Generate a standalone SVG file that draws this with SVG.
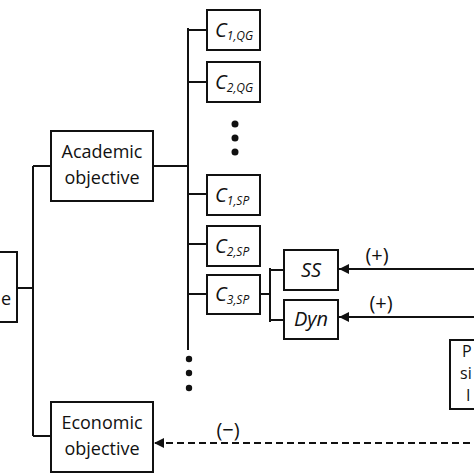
<svg xmlns="http://www.w3.org/2000/svg" width="474" height="474" viewBox="0 0 474 474">
<style>
.box{fill:#fff;stroke:#111;stroke-width:2}
.ln{fill:none;stroke:#111;stroke-width:2}
.t{font-family:"Open Sans","Liberation Sans",sans-serif;font-size:18px;fill:#111;text-anchor:middle}
.c{font-family:"Open Sans","Liberation Sans",sans-serif;font-size:20px;font-style:italic;fill:#111}
.s{font-size:12px}
.p{font-family:"Open Sans","Liberation Sans",sans-serif;font-size:20px;fill:#111;text-anchor:middle}
.r{font-family:"Open Sans","Liberation Sans",sans-serif;font-size:16px;fill:#111}
</style>
<defs>
<marker id="ah" viewBox="0 0 10 10" refX="10" refY="5" markerWidth="10" markerHeight="10" markerUnits="userSpaceOnUse" orient="auto">
<path d="M0,0 L10,5 L0,10 Z" fill="#111"/>
</marker>
</defs>
<rect width="474" height="474" fill="#fff"/>
<g id="connectors">
<path class="ln" d="M17,288 H33 M33,166 V436 M33,166 H51 M33,436 H51"/>
<path class="ln" d="M153,166 H188 M188,28 V350 M188,30 H207 M188,82 H207 M188,194 H207 M188,244 H207 M188,294 H207"/>
<path class="ln" d="M260,294 H270 M270,268 V322 M270,270 H284 M270,320 H284"/>
<line class="ln" x1="474" y1="269" x2="339" y2="269" marker-end="url(#ah)"/>
<line class="ln" x1="474" y1="317" x2="339" y2="317" marker-end="url(#ah)"/>
<line class="ln" x1="470" y1="443" x2="154" y2="443" stroke-dasharray="7,4" marker-end="url(#ah)"/>
<text class="p" x="377" y="262">(+)</text>
<text class="p" x="381" y="310">(+)</text>
<text class="p" x="228" y="437">(−)</text>
</g>
<g id="goal">
<rect class="box" x="-10" y="252" width="27" height="70"/>
<text class="t" x="11" y="305" style="text-anchor:end">e</text>
</g>
<g id="academic">
<rect class="box" x="51" y="131" width="102" height="70"/>
<text class="t" x="102" y="158">Academic</text>
<text class="t" x="102" y="184">objective</text>
</g>
<g id="economic">
<rect class="box" x="51" y="402" width="102" height="70"/>
<text class="t" x="102" y="429">Economic</text>
<text class="t" x="102" y="455">objective</text>
</g>
<g id="c1qg">
<rect class="box" x="207" y="10" width="53" height="40"/>
<text class="c" x="215" y="37">C<tspan class="s" dy="3">1,QG</tspan></text>
</g>
<g id="c2qg">
<rect class="box" x="207" y="62" width="53" height="40"/>
<text class="c" x="215" y="89">C<tspan class="s" dy="3">2,QG</tspan></text>
</g>
<g id="dots1" fill="#111">
<circle cx="235" cy="124" r="3.5"/>
<circle cx="235" cy="138" r="3.5"/>
<circle cx="235" cy="152" r="3.5"/>
</g>
<g id="c1sp">
<rect class="box" x="207" y="175" width="53" height="40"/>
<text class="c" x="215" y="202">C<tspan class="s" dy="3">1,SP</tspan></text>
</g>
<g id="c2sp">
<rect class="box" x="207" y="226" width="53" height="40"/>
<text class="c" x="215" y="253">C<tspan class="s" dy="3">2,SP</tspan></text>
</g>
<g id="c3sp">
<rect class="box" x="207" y="275" width="53" height="39"/>
<text class="c" x="215" y="301">C<tspan class="s" dy="3">3,SP</tspan></text>
</g>
<g id="dots2" fill="#111">
<circle cx="189" cy="359" r="3.2"/>
<circle cx="189" cy="373" r="3.2"/>
<circle cx="189" cy="388" r="3.2"/>
</g>
<g id="ss">
<rect class="box" x="284" y="250" width="54" height="40"/>
<text class="c" x="311" y="277" style="text-anchor:middle">SS</text>
</g>
<g id="dyn">
<rect class="box" x="284" y="300" width="54" height="39"/>
<text class="c" x="311" y="326" style="text-anchor:middle">Dyn</text>
</g>
<g id="process">
<rect class="box" x="450" y="340" width="40" height="69"/>
<text class="r" x="462" y="357">P</text>
<text class="r" x="460" y="379">si</text>
<text class="r" x="466" y="401">I</text>
</g>
</svg>
